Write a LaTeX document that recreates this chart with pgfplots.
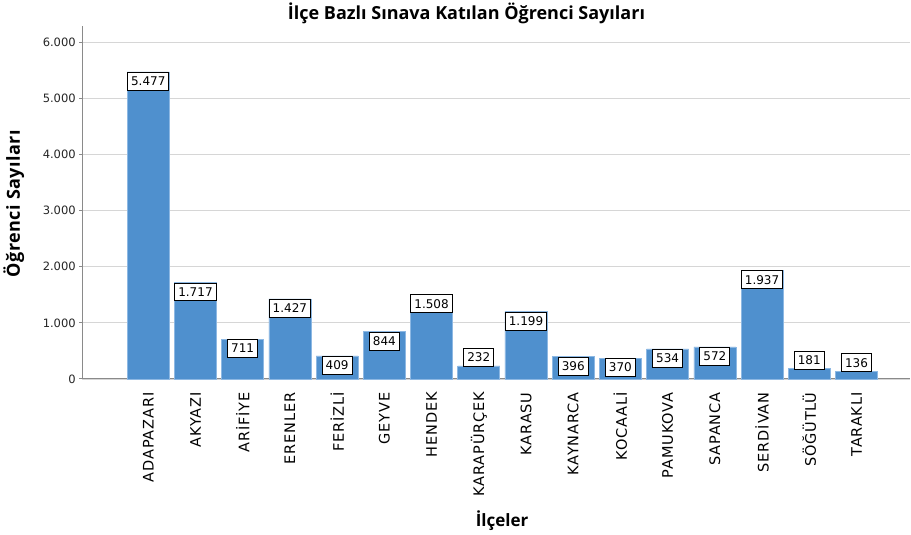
\documentclass[border=0pt]{standalone}
\usepackage{pgfplots}
\pgfplotsset{compat=1.18}
\usepackage{fontspec}
\setmainfont{DejaVu Sans}
\newfontfamily\xlabfont[LetterSpace=6]{DejaVu Sans}
\newfontfamily\titfont{Open Sans}
\newfontfamily\ylabfont[LetterSpace=2.5]{Open Sans}
\definecolor{barblue}{HTML}{4F90CE}
\definecolor{baredge}{HTML}{8DB8E3}
\definecolor{gridgray}{HTML}{D6D6D6}
\definecolor{axgray}{HTML}{8A8A8A}
\begin{document}
\begin{tikzpicture}
\begin{axis}[
  scale only axis,
  width=828pt, height=353pt,
  xmin=-1.398, xmax=16.14,
  ymin=0, ymax=6300,
  axis x line*=bottom, axis y line*=left,
  axis line style={axgray, line width=1pt},
  xtick={0,1,...,15},
  xticklabels={ADAPAZARI,AKYAZI,ARİFİYE,ERENLER,FERİZLİ,GEYVE,HENDEK,KARAPÜRÇEK,KARASU,KAYNARCA,KOCAALİ,PAMUKOVA,SAPANCA,SERDİVAN,SÖĞÜTLÜ,TARAKLI},
  xticklabel style={rotate=90, anchor=east, font=\xlabfont\fontsize{14.5}{15}\selectfont, text=black, xshift=-7pt},
  x tick style={draw=none},
  ytick={0,1000,2000,3000,4000,5000,6000},
  ymajorgrids,
  grid style={gridgray, line width=1.3pt},
  y tick style={axgray, line width=1pt},
  tick align=outside,
  major tick length=3pt,
  yticklabel style={font=\fontsize{11.5}{12}\selectfont, text=black!85},
  scaled y ticks=false,
  /pgf/number format/1000 sep={.},
  /pgf/number format/assume math mode=true,
  ybar, bar width=0.89,
  clip=false,
]
\addplot[bar shift=0pt, fill=barblue, draw=baredge, line width=0.6pt,
  nodes near coords,
  every node near coord/.append style={anchor=north, draw=black, fill=white, line width=0.9pt,
    inner xsep=3.5pt, inner ysep=4.5pt, font=\fontsize{12}{12}\selectfont, text=black, yshift=0pt}]
coordinates {(0,5477) (1,1717) (2,711) (3,1427) (4,409) (5,844) (6,1508) (8,1199) (9,396) (10,370) (11,534) (12,572) (13,1937)};
\addplot[bar shift=0pt, fill=barblue, draw=baredge, line width=0.6pt,
  nodes near coords,
  every node near coord/.append style={anchor=south, draw=black, fill=white, line width=0.9pt,
    inner xsep=3.5pt, inner ysep=4.5pt, font=\fontsize{12}{12}\selectfont, text=black, yshift=-1pt}]
coordinates {(7,232) (14,181) (15,136)};
\node[font=\titfont\bfseries\fontsize{18}{19}\selectfont] at (axis description cs:0.464,1.034) {İlçe Bazlı Sınava Katılan Öğrenci Sayıları};
\node[font=\ylabfont\bfseries\fontsize{18}{19}\selectfont, rotate=90] at (axis description cs:-0.0827,0.496) {Öğrenci Sayıları};
\node[font=\titfont\bfseries\fontsize{17}{18}\selectfont] at (axis description cs:0.507,-0.402) {İlçeler};
\end{axis}
\end{tikzpicture}
\end{document}
